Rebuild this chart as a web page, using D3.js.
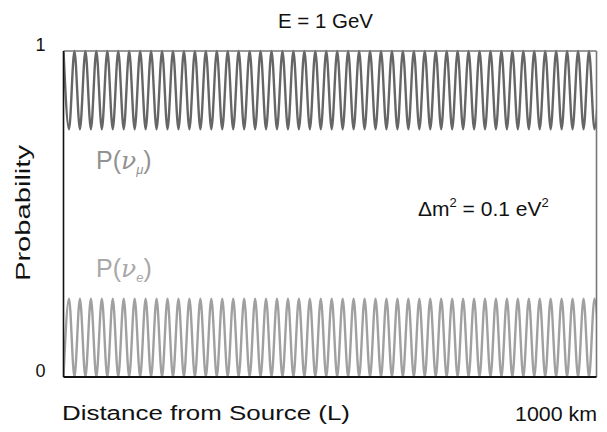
<!DOCTYPE html>
<html>
<head>
<meta charset="utf-8">
<script src="https://cdn.jsdelivr.net/npm/d3@7"></script>
<style>
  html, body { margin: 0; padding: 0; background: #fff; }
  svg { display: block; font-family: "Liberation Sans", "DejaVu Sans", sans-serif; }
</style>
</head>
<body>
<svg id="chart" width="607" height="432"></svg>
<script>
// Turning points of the oscillation along the baseline (km): maxima of P(nu_mu)
// at even indices, minima at odd indices.
const extremaKm = [
  0, 10.3, 20.5, 30.8, 41.1, 51.4, 61.6, 71.9, 82.2, 92.4,
  102.7, 113.0, 123.2, 133.5, 143.8, 154.1, 164.3, 174.6, 184.9, 195.1,
  205.4, 215.7, 225.9, 236.2, 246.5, 256.8, 267.0, 277.3, 287.6, 297.8,
  308.1, 318.4, 328.6, 338.9, 349.2, 359.5, 369.7, 380.0, 390.3, 400.5,
  410.8, 421.1, 431.3, 441.6, 451.9, 462.2, 472.4, 482.7, 493.0, 503.2,
  513.5, 523.8, 534.0, 544.3, 554.6, 564.9, 575.1, 585.4, 595.7, 605.9,
  616.2, 626.5, 636.7, 647.0, 657.3, 667.6, 677.8, 688.1, 698.4, 708.6,
  718.9, 729.2, 739.4, 749.7, 760.0, 770.3, 780.5, 790.8, 801.1, 811.3,
  821.6, 831.9, 842.1, 852.4, 862.7, 873.0, 883.2, 893.5, 903.8, 914.0,
  924.3, 934.6, 944.8, 955.1, 965.4, 975.7, 985.9, 996.2, 1006.5
];
// Levels the two probabilities swing between: [at even index, at odd index]
const muLevels = [1.0, 0.76];
const eLevels  = [0.0, 0.24];

const yTicks = [0, 1];
const xTicks = [1000];

const title = "E = 1 GeV";
const yTitle = "Probability";
const xTitle = "Distance from Source (L)";
const massLabel = { pre: "\u0394m", sup1: "2", mid: " = 0.1 eV", sup2: "2" };

const svg = d3.select("#chart");
const W = 607, H = 432;
const m = { left: 63.5, right: 10.5, top: 51, bottom: 55 };

const x = d3.scaleLinear().domain([0, 1000]).range([m.left, W - m.right]);
const y = d3.scaleLinear().domain([0, 1]).range([H - m.bottom, m.top]);

svg.append("clipPath").attr("id", "plotClip")
  .append("rect")
  .attr("x", x(0)).attr("y", y(1) - 2)
  .attr("width", x(1000) - x(0)).attr("height", y(0) - y(1) + 4);

const series = [
  { levels: muLevels, color: "#666666" },
  { levels: eLevels,  color: "#a0a0a0" }
];

const line = d3.line()
  .x(d => x(d.km))
  .y(d => y(d.p))
  .curve(d3.curveMonotoneX);

const plot = svg.append("g").attr("clip-path", "url(#plotClip)");
series.forEach(s => {
  const pts = extremaKm.map((km, i) => ({ km, p: s.levels[i % 2] }));
  plot.append("path")
    .datum(pts)
    .attr("d", line)
    .attr("fill", "none")
    .attr("stroke", s.color)
    .attr("stroke-width", 2.4);
});

// Frame: dark left/bottom axes, lighter top/right edges
svg.append("line")
  .attr("x1", x(0)).attr("x2", x(1000)).attr("y1", y(1)).attr("y2", y(1))
  .attr("stroke", "#777").attr("stroke-width", 1.6);
svg.append("line")
  .attr("x1", x(1000)).attr("x2", x(1000)).attr("y1", y(1)).attr("y2", y(0))
  .attr("stroke", "#777").attr("stroke-width", 1.6);
svg.append("line")
  .attr("x1", x(0)).attr("x2", x(0)).attr("y1", y(1)).attr("y2", y(0))
  .attr("stroke", "#111").attr("stroke-width", 1.6);
svg.append("line")
  .attr("x1", x(0)).attr("x2", x(1000)).attr("y1", y(0)).attr("y2", y(0))
  .attr("stroke", "#111").attr("stroke-width", 1.8);

// Y axis: only the 0 and 1 labels
const yAxis = svg.append("g")
  .attr("transform", `translate(${x(0)},0)`)
  .call(d3.axisLeft(y).tickValues(yTicks).tickSize(0).tickPadding(18).tickFormat(d3.format("d")));
yAxis.select(".domain").remove();
yAxis.selectAll("text")
  .attr("font-family", "Liberation Sans, sans-serif")
  .attr("font-size", 18).attr("fill", "#111")
  .attr("dy", "-0.05em");

// X axis: single label at the far end of the baseline
const xAxis = svg.append("g")
  .attr("transform", `translate(0,${y(0)})`)
  .call(d3.axisBottom(x).tickValues(xTicks).tickSize(0).tickPadding(30).tickFormat(d => d + " km"));
xAxis.select(".domain").remove();
xAxis.selectAll("text")
  .attr("font-family", "Liberation Sans, sans-serif")
  .attr("font-size", 20).attr("fill", "#111")
  .attr("text-anchor", "end")
  .attr("textLength", 82).attr("lengthAdjust", "spacingAndGlyphs");

svg.append("text")
  .attr("x", 278).attr("y", 28)
  .attr("font-size", 20).attr("fill", "#111")
  .attr("textLength", 95).attr("lengthAdjust", "spacingAndGlyphs")
  .text(title);

svg.append("text")
  .attr("transform", "translate(30,281) rotate(-90)")
  .attr("font-size", 20).attr("fill", "#111")
  .attr("textLength", 136).attr("lengthAdjust", "spacingAndGlyphs")
  .text(yTitle);

svg.append("text")
  .attr("x", 62).attr("y", 420)
  .attr("font-size", 20).attr("fill", "#111")
  .attr("textLength", 288).attr("lengthAdjust", "spacingAndGlyphs")
  .text(xTitle);

// Series labels
function probLabel(xp, yp, sub, color) {
  const t = svg.append("text")
    .attr("x", xp).attr("y", yp)
    .attr("font-size", 25).attr("fill", color);
  t.append("tspan").text("P(");
  t.append("tspan").attr("font-style", "italic").attr("font-family", "DejaVu Serif, serif").text("\u03bd");
  t.append("tspan").attr("font-size", 13).attr("font-style", "italic").attr("dy", 5).text(sub);
  t.append("tspan").attr("dy", -5).text(")");
}
probLabel(96, 169, "\u03bc", "#929292");
probLabel(96, 277, "e", "#a8a8a8");

const ml = svg.append("text")
  .attr("x", 418).attr("y", 216)
  .attr("font-size", 21).attr("fill", "#111");
ml.append("tspan").text(massLabel.pre);
ml.append("tspan").attr("font-size", 13).attr("dy", -9).text(massLabel.sup1);
ml.append("tspan").attr("dy", 9).text(massLabel.mid);
ml.append("tspan").attr("font-size", 13).attr("dy", -9).text(massLabel.sup2);
</script>
</body>
</html>
